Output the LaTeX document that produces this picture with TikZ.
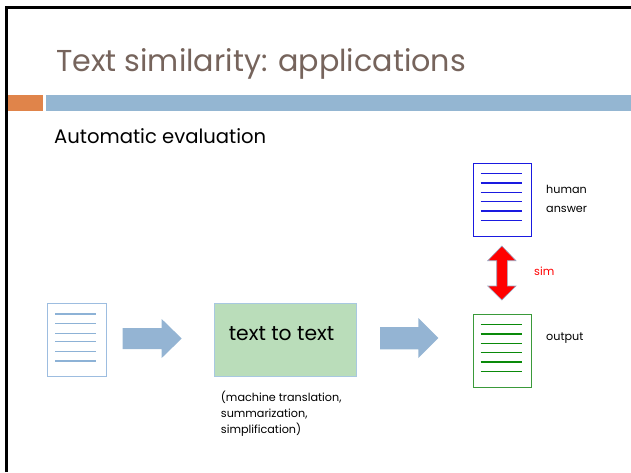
\documentclass[tikz,border=0pt]{standalone}
\usepackage{fontspec}
\setmainfont{Poppins}
\definecolor{titlecol}{HTML}{76645C}
\definecolor{barorange}{HTML}{E0844A}
\definecolor{barblue}{HTML}{94B6D2}
\definecolor{docblue}{HTML}{9DBDE0}
\definecolor{doclines}{HTML}{8DB2D6}
\definecolor{arrowblue}{HTML}{94B4D3}
\definecolor{boxgreen}{HTML}{BADDBA}
\definecolor{boxedge}{HTML}{A8C8E0}
\definecolor{humanblue}{HTML}{1A1AE0}
\definecolor{outgreen}{HTML}{3A9A3A}
\definecolor{outlines}{HTML}{0A8A0A}
\definecolor{simout}{HTML}{9AA6C0}
\tikzset{
  docbox/.style={draw, line width=1pt, fill=white, inner sep=0pt, minimum width=58pt, minimum height=72.7pt},
  docline/.style={line width=1.1pt},
  blockarrow/.style={fill=arrowblue, draw=none},
  lbl/.style={inner sep=0pt, anchor=base west, font=\fontsize{11.2}{16.3}\selectfont}
}
\begin{document}
\begin{tikzpicture}[x=1pt,y=-1pt]
\useasboundingbox (0,0) rectangle (631,472);
% frame
\draw[line width=3pt, black] (6.5,472) -- (6.5,7.5) -- (631,7.5);
% title
\node[inner sep=0pt, anchor=base west, text=titlecol, font=\fontsize{30.2}{36}\selectfont] (title) at (56,71) {Text similarity: applications};
% bars
\fill[barorange] (8,95) rectangle (43,110.5);
\fill[barblue] (46,95) rectangle (631,110.5);
% subtitle
\node[inner sep=0pt, anchor=base west, font=\fontsize{19.6}{22}\selectfont] (sub) at (54,143) {Automatic evaluation};
% source document
\node[docbox, draw=docblue, minimum width=58.7pt] (src) at (76.7,340.3) {};
\foreach \yy in {314,323.7,333.3,341.7,351.3,361}
  \draw[docline, doclines] (55,\yy) -- (96,\yy);
% arrow 1
\fill[blockarrow] (122.7,328) -- (161.7,328) -- (161.7,319) -- (181.7,338.5) -- (161.7,358) -- (161.7,349) -- (122.7,349) -- cycle;
% green box
\node[draw=boxedge, fill=boxgreen, line width=1pt, inner sep=0pt, minimum width=142pt, minimum height=72.7pt] (t2t) at (285,340.3) {};
\node[inner sep=0pt, anchor=base, font=\fontsize{20.3}{24}\selectfont] (t2tlbl) at (281.5,340.7) {text to text};
\node[lbl] (apps) at (220.7,401) {\begin{tabular}[t]{@{}l@{}}(machine translation,\\summarization,\\simplification)\end{tabular}};
% arrow 2
\fill[blockarrow] (380,327) -- (418.3,327) -- (418.3,318) -- (438.3,338) -- (418.3,358) -- (418.3,349.3) -- (380,349.3) -- cycle;
% human document
\node[docbox, draw=humanblue] (human) at (502.3,199.7) {};
\foreach \yy in {173.3,183,192.7,201.3,211,220.7}
  \draw[docline, humanblue] (480.7,\yy) -- (521.7,\yy);
\node[lbl] (humanlbl) at (546,193.3) {human};
\node[lbl] (answerlbl) at (546,212.7) {answer};
% output document
\node[docbox, draw=outgreen, minimum height=73.3pt] (out) at (502.3,350.7) {};
\foreach \yy in {324.3,334,343.7,352.7,362,371.7}
  \draw[docline, outlines] (480.7,\yy) -- (521.7,\yy);
\node[lbl] (outlbl) at (546,340) {output};
% sim double arrow
\filldraw[fill=red, draw=simout, line width=0.6pt] (501.85,246) -- (516,260.7) -- (507.3,260.7) -- (507.3,286) -- (516,286) -- (501.85,300) -- (487.7,286) -- (496.7,286) -- (496.7,260.7) -- (487.7,260.7) -- cycle;
\node[lbl, text=red] (simlbl) at (534,275) {sim};
\end{tikzpicture}
\end{document}
